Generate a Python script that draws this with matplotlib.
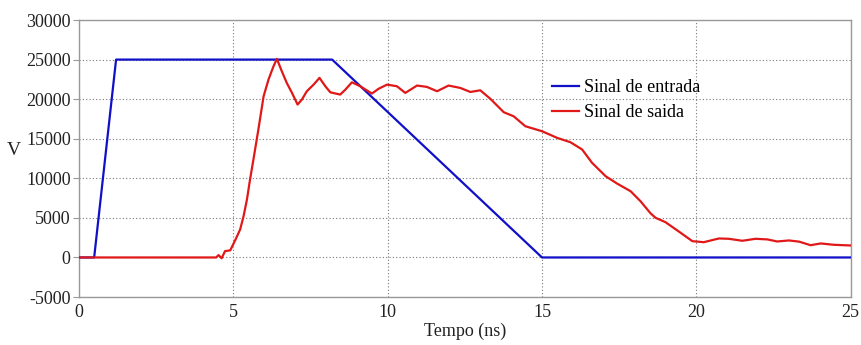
import matplotlib
matplotlib.use("Agg")
import matplotlib.pyplot as plt

plt.rcParams['font.family'] = ['Liberation Serif', 'DejaVu Serif']
plt.rcParams['axes.unicode_minus'] = False

# Input signal (ns, V)
t_in = [0, 0.49, 1.2, 8.2, 15.0, 25.0]
v_in = [0, 0, 25000, 25000, 0, 0]

# Output signal (ns, V)
t_out = [0, 4.44, 4.52, 4.62, 4.73, 4.9, 5.07, 5.22, 5.33, 5.44, 5.54, 5.65, 5.81,
         5.98, 6.14, 6.3, 6.41, 6.57, 6.73, 6.9, 7.08, 7.22, 7.38, 7.6, 7.79,
         7.98, 8.14, 8.46, 8.63, 8.84, 9.11, 9.49, 9.7, 9.98, 10.3, 10.57, 10.95,
         11.27, 11.6, 11.97, 12.35, 12.68, 13.0, 13.33, 13.76, 14.08, 14.46, 15.0,
         15.49, 15.92, 16.3, 16.62, 17.06, 17.43, 17.87, 18.19, 18.52, 18.68, 19.0,
         19.49, 19.87, 20.24, 20.73, 21.05, 21.49, 21.92, 22.3, 22.62, 23.0, 23.33,
         23.7, 24.03, 24.46, 25.0]
v_out = [0, 0, 300, -100, 800, 900, 2270, 3540, 5200, 7320, 9850, 12370, 16160,
         20370, 22500, 24150, 25090, 23520, 22050, 20790, 19320, 19950, 21000, 21840, 22690,
         21630, 20870, 20580, 21210, 22130, 21630, 20710, 21300, 21840, 21630, 20790, 21720,
         21550, 21000, 21720, 21420, 20910, 21120, 20030, 18350, 17840, 16580, 15950,
         15110, 14560, 13640, 11960, 10270, 9340, 8370, 7110, 5560, 5010, 4460,
         3120, 2060, 1930, 2400, 2360, 2110, 2360, 2280, 2020, 2150, 2000,
         1550, 1770, 1600, 1515]

fig = plt.figure(figsize=(8.61, 3.45), dpi=100)
ax = fig.add_axes([0.0918, 0.139, 0.8962, 0.803])

ax.plot(t_in, v_in, color='#1010c8', lw=1.6, label='Sinal de entrada', zorder=3)
ax.plot(t_out, v_out, color='#e01818', lw=1.6, label='Sinal de saida', zorder=3)

ax.set_xlim(0, 25)
ax.set_ylim(-5000, 30000)
ax.set_xticks([0, 5, 10, 15, 20, 25])
ax.set_yticks(range(-5000, 30001, 5000))
ax.grid(True, linestyle=(0, (1, 2)), color='#777777', lw=0.8)
for s in ax.spines.values():
    s.set_color('#999999')
    s.set_linewidth(1.0)
ax.tick_params(axis='both', labelsize=13, colors='#999999', labelcolor='#222222')
ax.tick_params(axis='x', length=0, pad=5)
ax.tick_params(axis='y', length=4, pad=2)

ax.set_xlabel('Tempo (ns)', fontsize=13, labelpad=1, color='#222222')
ax.set_ylabel('V', fontsize=14, rotation=0, labelpad=8, color='#222222')
ax.yaxis.set_label_coords(-0.085, 0.5)

ax.legend(loc='upper left', bbox_to_anchor=(0.608, 0.80), frameon=False,
          fontsize=13, handlelength=1.5, handletextpad=0.3,
          borderpad=0.2, labelspacing=0.45, borderaxespad=0)

fig.savefig('out.png', dpi=100)
